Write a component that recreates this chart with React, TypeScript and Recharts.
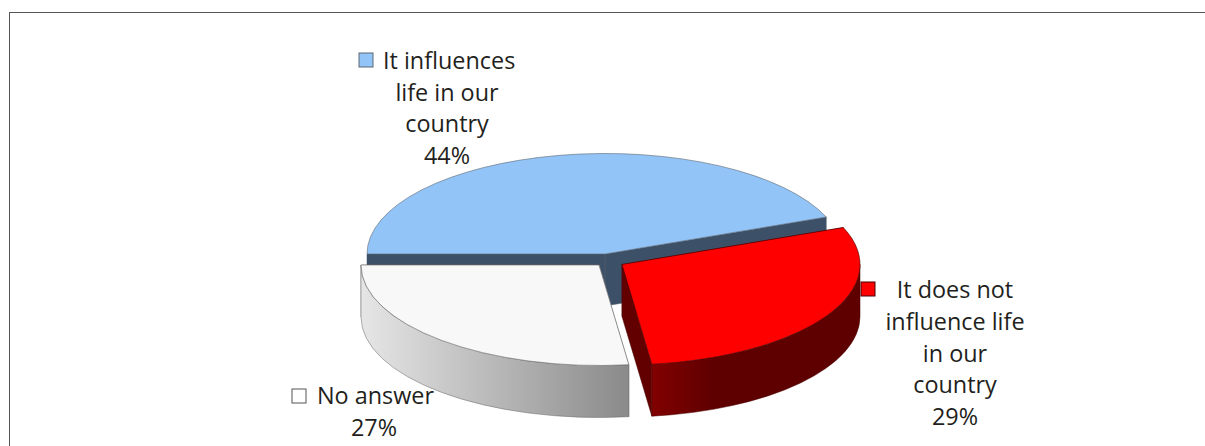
import React from "react";
import { PieChart, Pie } from "recharts";

const names = ["It influences life in our country", "It does not influence life in our country", "No answer"];
const shares = [44, 29, 27];
const labelLines = [
  ["It influences", "life in our", "country", "44%"],
  ["It does not", "influence life", "in our", "country", "29%"],
  ["No answer", "27%"],
];

const data = names.map((name, i) => ({ name, value: shares[i] }));

const TILT = 100.5 / 238;
const DEPTH = 52;
const FONT = "'Open Sans', sans-serif";

const sliceStyles = [
  { top: "#92c4f8", face: "#3c5068", stops: [[0, "#3c5068"], [1, "#3c5068"]], edge: "#5c6670", dx: 0, dy: 0 },
  { top: "#fe0000", face: "#620000", stops: [[0, "#820000"], [0.3, "#5e0000"], [1, "#5e0000"]], edge: "#4a0000", dx: 17, dy: 10.5 },
  { top: "#f8f8f8", face: "#8a8a8a", stops: [[0, "#e6e6e6"], [1, "#8a8a8a"]], edge: "#666666", dx: -6, dy: 11 },
];

const labelLayout = [
  { cx: 447, y: 69, sx: 359, sy: 53, line: 31.7, firstX: 383 },
  { cx: 955, y: 298, sx: 861, sy: 282, line: 31.8, firstX: null },
  { cx: 374, y: 404, sx: 292, sy: 389, line: 32, firstX: 317 },
];

function Slice(props: any) {
  const i = names.indexOf(props.name);
  const s = sliceStyles[i];
  const cx = props.cx + s.dx;
  const cy = props.cy + s.dy;
  const rx = props.outerRadius;
  const ry = rx * TILT;
  const a1 = props.startAngle;
  const a2 = props.endAngle;
  const pt = (a: number, d = 0) => {
    const r = (a * Math.PI) / 180;
    return [cx + rx * Math.cos(r), cy - ry * Math.sin(r) + d];
  };
  const P = (p: number[]) => `${p[0].toFixed(2)} ${p[1].toFixed(2)}`;
  const face = (a: number) =>
    `M${P([cx, cy])} L${P(pt(a))} L${P(pt(a, DEPTH))} L${P([cx, cy + DEPTH])} Z`;
  const large = Math.abs(a1 - a2) > 180 ? 1 : 0;
  const topPath = `M${P([cx, cy])} L${P(pt(a1))} A${rx} ${ry} 0 ${large} 1 ${P(pt(a2))} Z`;
  const w1 = Math.min(a1, 0);
  const w2 = Math.max(a2, -180);
  const hasWall = w1 > w2;
  const wallPath = `M${P(pt(w1))} A${rx} ${ry} 0 0 1 ${P(pt(w2))} L${P(pt(w2, DEPTH))} A${rx} ${ry} 0 0 0 ${P(pt(w1, DEPTH))} Z`;
  const gid = `wall-${i}`;
  return (
    <g>
      <defs>
        <linearGradient id={gid} x1="0" y1="0" x2="1" y2="0">
          {s.stops.map(([o, c]) => (
            <stop key={String(o)} offset={o as number} stopColor={c as string} />
          ))}
        </linearGradient>
      </defs>
      <path d={face(a1)} fill={s.face} stroke={s.face} strokeWidth={0.5} />
      <path d={face(a2)} fill={s.face} stroke={s.edge} strokeWidth={0.5} />
      {hasWall && <path d={wallPath} fill={`url(#${gid})`} stroke={s.edge} strokeWidth={0.5} />}
      <path d={topPath} fill={s.top} stroke={s.edge} strokeWidth={0.6} />
    </g>
  );
}

function SliceLabel(props: any) {
  const i = names.indexOf(props.name);
  const l = labelLayout[i];
  const lines = labelLines[i];
  const s = sliceStyles[i];
  return (
    <g>
      <rect
        x={l.sx}
        y={l.sy}
        width={14}
        height={14}
        fill={i === 2 ? "#ffffff" : s.top}
        stroke={i === 2 ? "#555555" : s.edge}
        strokeWidth={1}
      />
      {lines.map((t, k) => {
        const useFirst = k === 0 && l.firstX !== null;
        return (
          <text
            key={t}
            x={useFirst ? (l.firstX as number) : l.cx}
            y={l.y + k * l.line}
            textAnchor={useFirst ? "start" : "middle"}
            fontFamily={FONT}
            fontSize={23.4}
            fill="#231f20"
          >
            {t}
          </text>
        );
      })}
    </g>
  );
}

export default function App() {
  return (
    <div style={{ position: "absolute", left: 0, top: 0, width: 1205, height: 446, background: "#fff", overflow: "hidden" }}>
      <div
        style={{
          position: "absolute",
          left: 9,
          top: 12,
          width: 1196,
          height: 434,
          boxSizing: "border-box",
          borderTop: "1px solid #555",
          borderLeft: "1px solid #555",
        }}
      />
      <div style={{ position: "absolute", left: 0, top: 0 }}>
        <PieChart width={1205} height={446} margin={{ top: 0, right: 0, bottom: 0, left: 0 }}>
          <Pie
            data={data}
            dataKey="value"
            nameKey="name"
            cx={605}
            cy={254}
            outerRadius={238}
            innerRadius={0}
            startAngle={180}
            endAngle={-180}
            paddingAngle={0}
            shape={Slice}
            label={SliceLabel}
            labelLine={false}
            isAnimationActive={false}
          />
        </PieChart>
      </div>
    </div>
  );
}
